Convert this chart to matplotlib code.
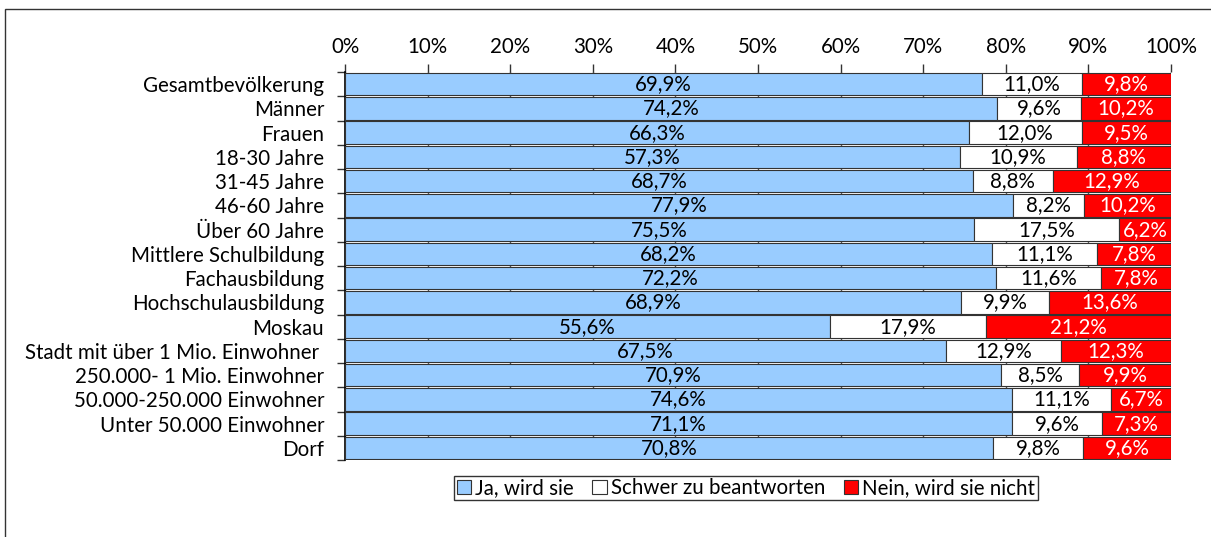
import matplotlib
matplotlib.use("Agg")
import matplotlib.pyplot as plt
from matplotlib.patches import Rectangle, Patch

plt.rcParams['font.family'] = ['Lato', 'DejaVu Sans']

# Kategorien und Werte (in Prozent, wie im Bild beschriftet)
categories = ["Gesamtbevölkerung", "Männer", "Frauen", "18-30 Jahre", "31-45 Jahre",
              "46-60 Jahre", "Über 60 Jahre", "Mittlere Schulbildung", "Fachausbildung",
              "Hochschulausbildung", "Moskau", "Stadt mit über 1 Mio. Einwohner ",
              "250.000- 1 Mio. Einwohner", "50.000-250.000 Einwohner",
              "Unter 50.000 Einwohner", "Dorf"]
ja = [69.9, 74.2, 66.3, 57.3, 68.7, 77.9, 75.5, 68.2, 72.2, 68.9, 55.6, 67.5, 70.9, 74.6, 71.1, 70.8]
schwer = [11.0, 9.6, 12.0, 10.9, 8.8, 8.2, 17.5, 11.1, 11.6, 9.9, 17.9, 12.9, 8.5, 11.1, 9.6, 9.8]
nein = [9.8, 10.2, 9.5, 8.8, 12.9, 10.2, 6.2, 7.8, 7.8, 13.6, 21.2, 12.3, 9.9, 6.7, 7.3, 9.6]
series_names = ["Ja, wird sie", "Schwer zu beantworten", "Nein, wird sie nicht"]
xticks = [0, 10, 20, 30, 40, 50, 60, 70, 80, 90, 100]

colors = ["#99CCFF", "#FFFFFF", "#FF0000"]
text_colors = ["black", "black", "white"]
fs = 14.8

fig = plt.figure(figsize=(12.11, 5.37), dpi=100)
ax = fig.add_axes([345/1211, 1-460/537, 826/1211, 388/537])

# Rahmen um die Grafik (rechts und unten abgeschnitten)
fig.patches.append(Rectangle((5/1211, -0.1), 1.2, 1-9/537+0.1, transform=fig.transFigure,
                             fill=False, edgecolor="#333333", linewidth=1.0))

y = list(range(len(categories)))
left = [0.0] * len(categories)
for vals, col, tcol, name in zip([ja, schwer, nein], colors, text_colors, series_names):
    widths = [v / (a + s + n) * 100 for v, a, s, n in zip(vals, ja, schwer, nein)]
    ax.barh(y, widths, left=left, height=0.93, color=col, edgecolor="#333333",
            linewidth=0.8, label=name, zorder=3)
    for i, (w, l, v) in enumerate(zip(widths, left, vals)):
        ax.text(l + w / 2, i, f"{v:.1f}%".replace(".", ","), ha="center", va="center",
                color=tcol, fontsize=fs, zorder=4)
    left = [l + w for l, w in zip(left, widths)]

ax.set_xlim(0, 100)
ax.set_ylim(len(categories) - 0.5, -0.5)
ax.xaxis.tick_top()
ax.set_xticks(xticks)
ax.set_xticklabels([f"{t}%" for t in xticks], fontsize=fs)
ax.tick_params(axis="x", length=6, width=1, color="#333333", pad=5)
ax.set_yticks(y)
ax.set_yticklabels(categories, fontsize=fs)
ax.tick_params(axis="y", which="major", length=0, pad=15)
ax.set_yticks([i - 0.5 for i in range(len(categories) + 1)], minor=True)
ax.tick_params(axis="y", which="minor", length=6, width=1, color="#333333")
ax.grid(axis="x", color="#555555", linewidth=1, zorder=0)
for s in ["top", "right", "bottom"]:
    ax.spines[s].set_visible(False)
ax.spines["left"].set_color("black")
ax.spines["left"].set_linewidth(1.2)

handles = [Patch(facecolor=c, edgecolor="#333333", linewidth=0.8) for c in colors]
leg = fig.legend(handles, series_names, loc="center", bbox_to_anchor=(746/1211, 1-488/537),
                 ncol=3, fontsize=fs, frameon=True, fancybox=False, handlelength=0.7,
                 handleheight=0.7, handletextpad=0.2, columnspacing=0.9,
                 borderpad=0.12, borderaxespad=0)
leg.get_frame().set_edgecolor("black")
leg.get_frame().set_linewidth(1.0)

fig.savefig("out.png", dpi=100)
